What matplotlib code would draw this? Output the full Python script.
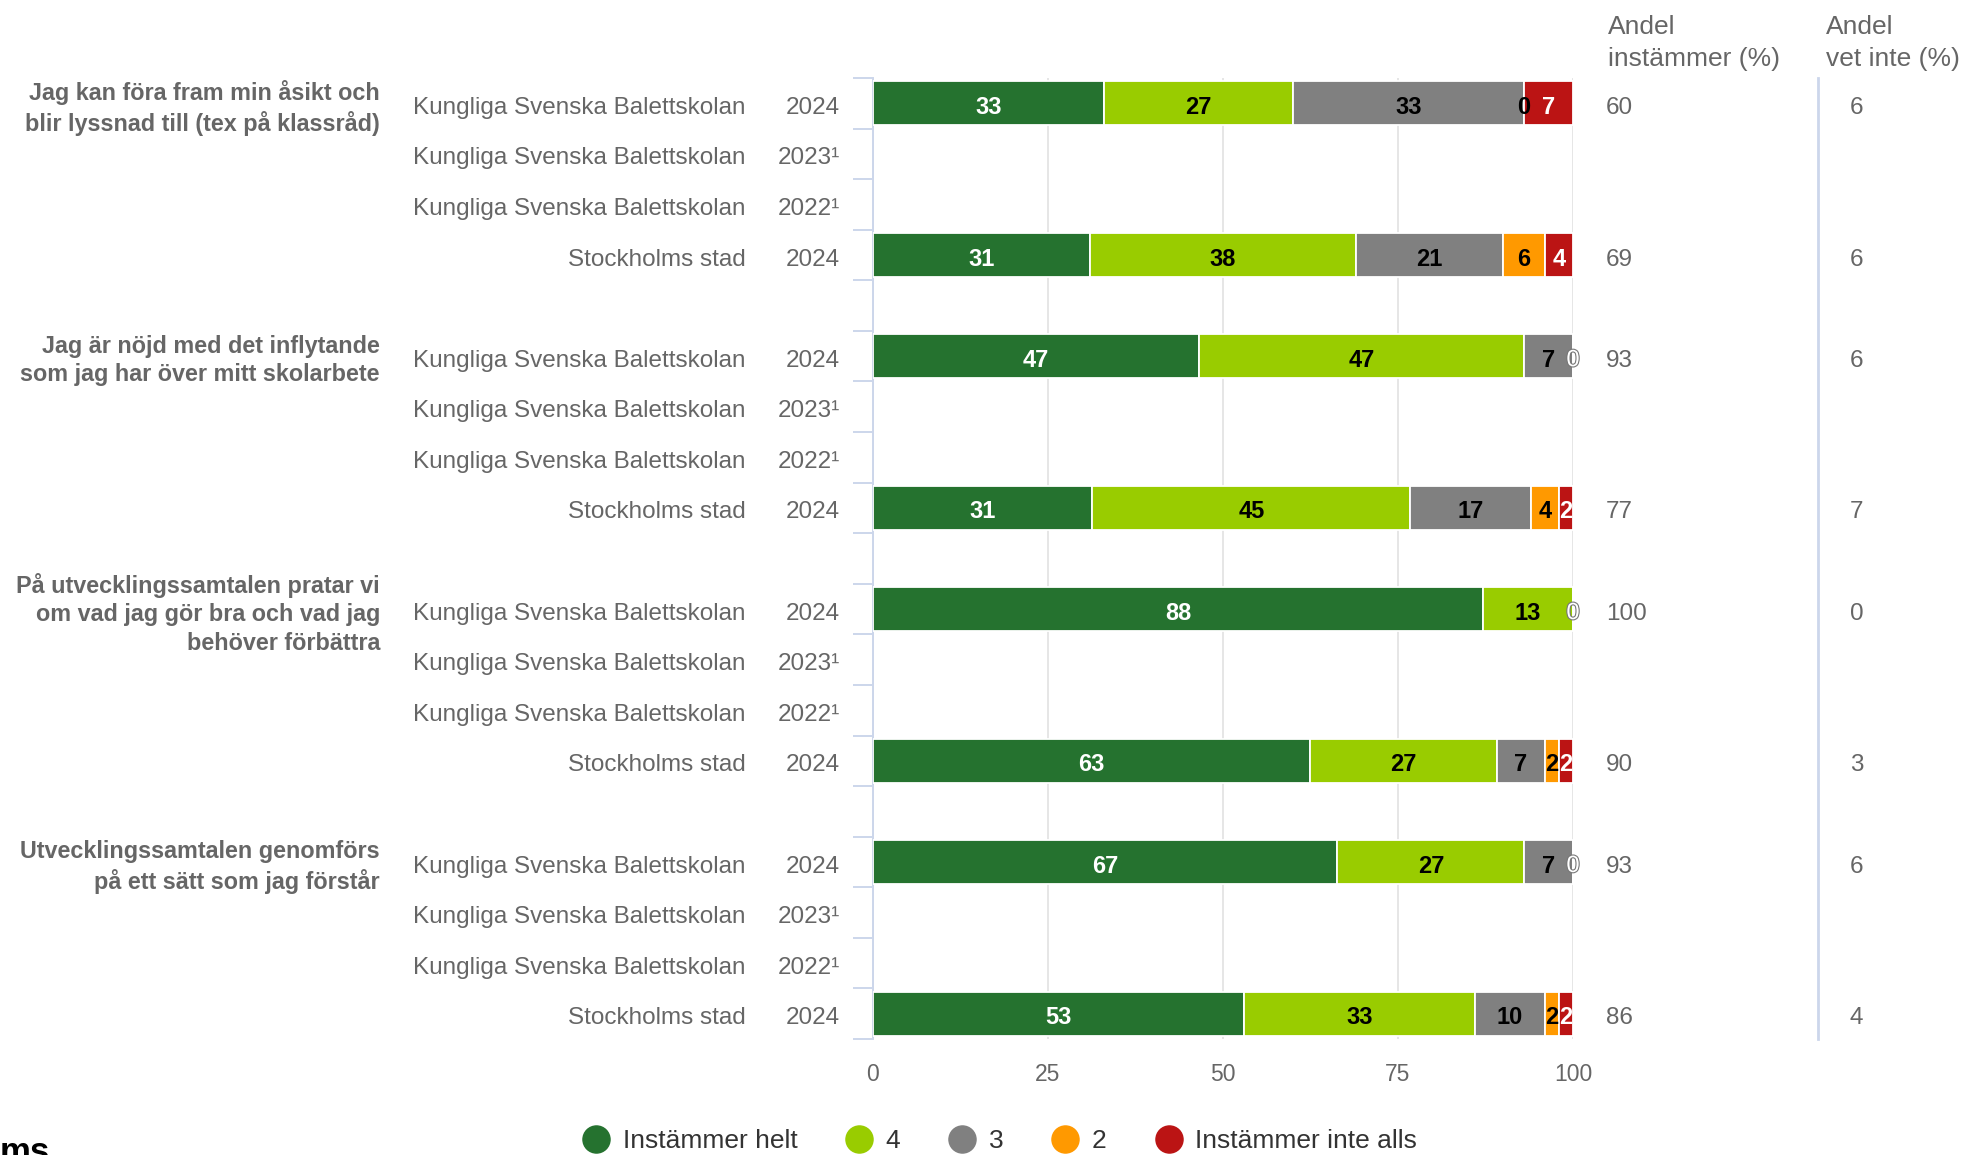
import matplotlib
matplotlib.use('Agg')
import matplotlib.pyplot as plt
from matplotlib.lines import Line2D
import matplotlib.transforms as mtransforms
import matplotlib.patheffects as pe
import numpy as np

plt.rcParams['font.family'] = ['Liberation Sans', 'DejaVu Sans']

# ---------------- data ----------------
questions = [
    "Jag kan föra fram min åsikt och\nblir lyssnad till (tex på klassråd)",
    "Jag är nöjd med det inflytande\nsom jag har över mitt skolarbete",
    "På utvecklingssamtalen pratar vi\nom vad jag gör bra och vad jag\nbehöver förbättra",
    "Utvecklingssamtalen genomförs\npå ett sätt som jag förstår",
]
row_units = ["Kungliga Svenska Balettskolan", "Kungliga Svenska Balettskolan",
             "Kungliga Svenska Balettskolan", "Stockholms stad"]
row_years = ["2024", "2023\u00b9", "2022\u00b9", "2024"]

series_names = ["Instämmer helt", "4", "3", "2", "Instämmer inte alls"]
series_colors = ["#25722f", "#99cc00", "#808080", "#ff9900", "#bb1414"]
label_colors = ["white", "black", "black", "black", "white"]

nan = np.nan
s_helt = [33, nan, nan, 31, 47, nan, nan, 31, 88, nan, nan, 63, 67, nan, nan, 53]
s_4 = [27, nan, nan, 38, 47, nan, nan, 45, 13, nan, nan, 27, 27, nan, nan, 33]
s_3 = [33, nan, nan, 21, 7, nan, nan, 17, 0, nan, nan, 7, 7, nan, nan, 10]
s_2 = [0, nan, nan, 6, 0, nan, nan, 4, 0, nan, nan, 2, 0, nan, nan, 2]
s_1 = [7, nan, nan, 4, 0, nan, nan, 2, 0, nan, nan, 2, 0, nan, nan, 2]

andel_instammer = [60, None, None, 69, 93, None, None, 77, 100, None, None, 90, 93, None, None, 86]
andel_vet_inte = [6, None, None, 6, 6, None, None, 7, 0, None, None, 3, 6, None, None, 4]

x_ticks = [0, 25, 50, 75, 100]

# ---------------- layout ----------------
W, H = 1965, 1155
fig = plt.figure(figsize=(W / 100, H / 100), dpi=100)
top_px, bot_px = 78, 1039
left_px, right_px = 873, 1573
ax = fig.add_axes([left_px / W, 1 - bot_px / H, (right_px - left_px) / W, (bot_px - top_px) / H])

n_groups = len(questions)
rows_per_group = len(row_units)
n_cats = n_groups * (rows_per_group + 1) - 1
positions = [g * (rows_per_group + 1) + r for g in range(n_groups) for r in range(rows_per_group)]

series = [s_helt, s_4, s_3, s_2, s_1]
vals = np.array(series, dtype=float)  # shape (5, 16)

bar_h = 0.875
lab_fs = 17
txt_color = "#666666"
cat_fs = 17.5
txt_dy = 0.09   # label baseline offset (category units)

for i, pos in enumerate(positions):
    col = vals[:, i]
    if np.all(np.isnan(col)):
        continue
    total = np.nansum(col)
    widths = col / total * 100.0
    lefts = np.concatenate([[0], np.cumsum(widths)[:-1]])
    ax.barh([pos] * 5, widths, left=lefts, height=bar_h, color=series_colors,
            edgecolor="white", linewidth=1.3, zorder=3)
    drawn = []
    for k in range(4, -1, -1):
        v = col[k]
        x = lefts[k] + widths[k] / 2.0
        if any(abs(x - d) < 1.5 for d in drawn):
            continue
        drawn.append(x)
        t = ax.text(x, pos + 0.08, f"{int(v)}", ha="center", va="center",
                    fontsize=lab_fs, fontweight="bold", color=label_colors[k], zorder=5)
        if v == 0 and label_colors[k] == "white":
            t.set_path_effects([pe.withStroke(linewidth=1.6, foreground="#777777")])
            t.set_fontweight("normal")

ax.set_xlim(0, 100)
ax.set_ylim(n_cats - 0.5, -0.5)
ax.set_xticks(x_ticks)
ax.set_xticklabels([str(t) for t in x_ticks])
ax.tick_params(axis="x", length=0, pad=17, labelsize=16.5, labelcolor=txt_color)
ax.set_yticks([])
ax.set_yticks(np.arange(-0.5, n_cats, 1.0), minor=True)
ax.tick_params(axis="y", which="minor", length=14.5, width=1.4, color="#ccd6eb")
ax.xaxis.grid(True, color="#e6e6e6", linewidth=1.4, zorder=0)
ax.set_axisbelow(True)
for s in ["top", "right", "bottom"]:
    ax.spines[s].set_visible(False)
ax.spines["left"].set_color("#ccd6eb")
ax.spines["left"].set_linewidth(1.4)

# ---------------- labels outside axes ----------------
tr = mtransforms.blended_transform_factory(fig.transFigure, ax.transData)
for i, pos in enumerate(positions):
    r = i % rows_per_group
    y = pos + txt_dy
    ax.text(746 / W, y, row_units[r], transform=tr, ha="right", va="center",
            fontsize=cat_fs, color=txt_color)
    ax.text(840 / W, y, row_years[r], transform=tr, ha="right", va="center",
            fontsize=cat_fs, color=txt_color)
    if andel_instammer[i] is not None:
        ax.text(1606 / W, y, str(andel_instammer[i]), transform=tr, ha="left",
                va="center", fontsize=cat_fs, color=txt_color)
    if andel_vet_inte[i] is not None:
        ax.text(1850 / W, y, str(andel_vet_inte[i]), transform=tr, ha="left",
                va="center", fontsize=cat_fs, color=txt_color)

for g, q in enumerate(questions):
    ax.text(380 / W, g * (rows_per_group + 1) + txt_dy, q, transform=tr, ha="right",
            va="center", multialignment="right", fontsize=16.8, fontweight="bold",
            color=txt_color, linespacing=1.3)

fig.text(1608 / W, 1 - 43 / H, "Andel\ninstämmer (%)", ha="left", va="center",
         fontsize=19, color=txt_color, linespacing=1.4)
fig.text(1826 / W, 1 - 43 / H, "Andel\nvet inte (%)", ha="left", va="center",
         fontsize=19, color=txt_color, linespacing=1.4)

fig.add_artist(Line2D([1818 / W, 1818 / W], [1 - 78 / H, 1 - bot_px / H],
                      transform=fig.transFigure, color="#ccd6eb", linewidth=2))

# legend
handles = [Line2D([], [], linestyle="none", marker="o", markersize=19.5,
                  markerfacecolor=c, markeredgecolor=c) for c in series_colors]
leg = fig.legend(handles, series_names, loc="center", bbox_to_anchor=(1000 / W, 1 - 1141 / H),
                 ncol=5, frameon=False, fontsize=19, handlelength=1.0,
                 handletextpad=0.5, columnspacing=1.85, borderpad=0)
for t in leg.get_texts():
    t.set_color("#333333")

fig.text(0.0, 1 - 1162 / H, "ms", ha="left", va="baseline", fontsize=25,
         fontweight="bold", color="black")

fig.savefig("out.png", dpi=100)
